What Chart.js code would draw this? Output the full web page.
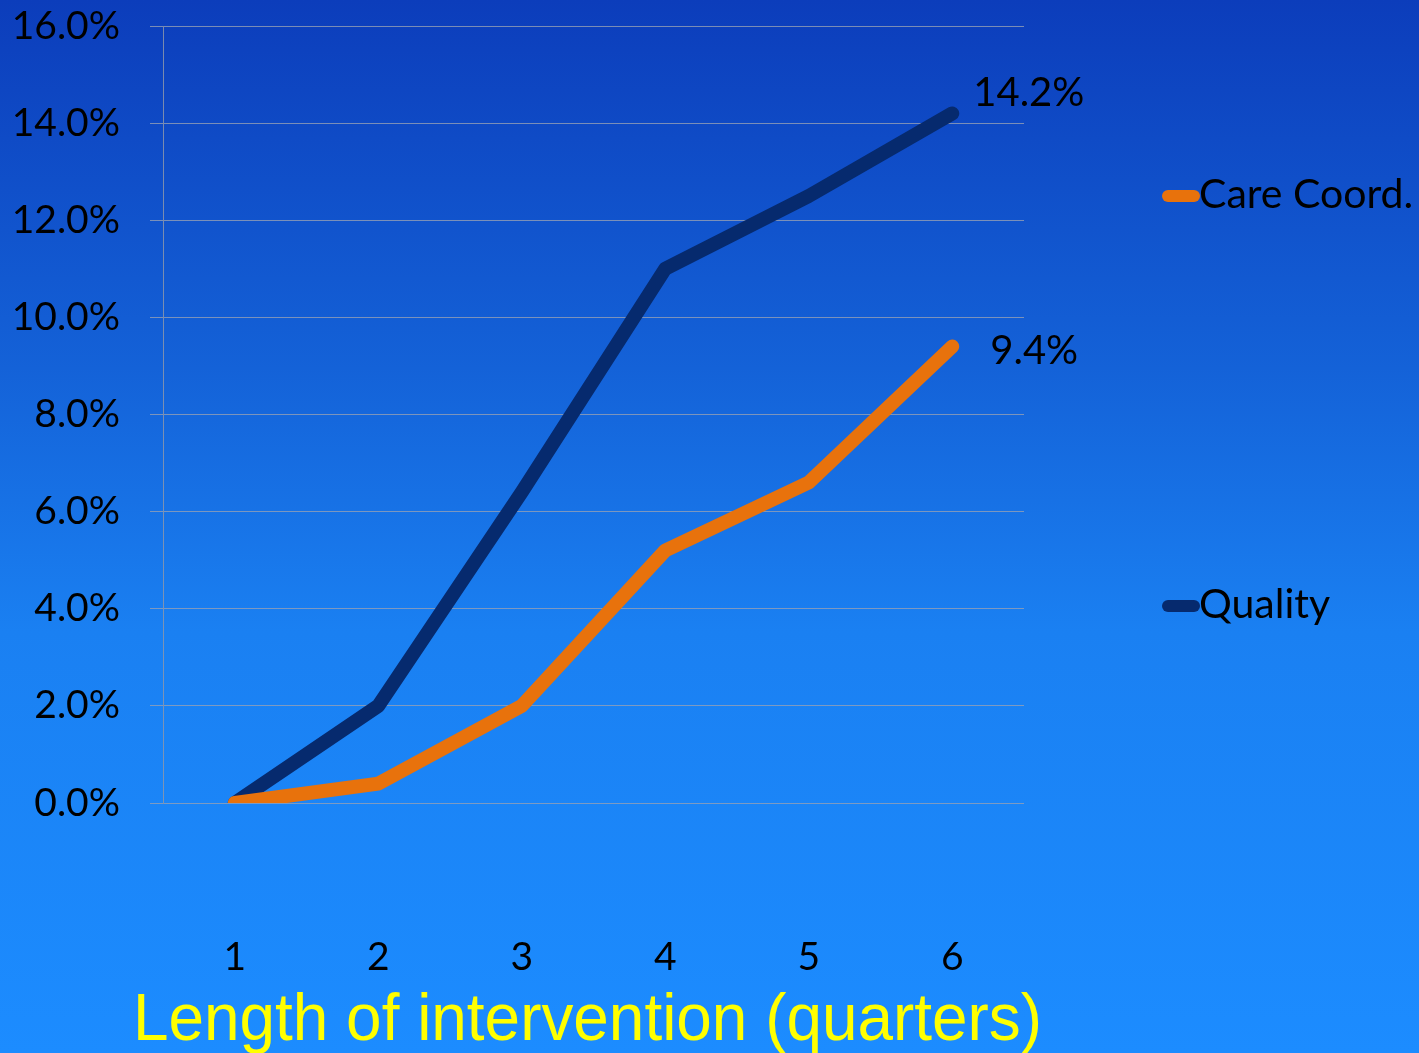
<!DOCTYPE html>
<html>
<head>
<meta charset="utf-8">
<title>Length of intervention</title>
<script src="https://cdn.jsdelivr.net/npm/chart.js@4/dist/chart.umd.min.js"></script>
<style>
  html, body { margin: 0; padding: 0; background: #1a7ef0; }
  #wrap { width: 1419px; height: 1053px; position: relative; }
  canvas { display: block; }
</style>
</head>
<body>
<div id="wrap"><canvas id="chart" width="1419" height="1053"></canvas></div>
<script>
// Quarters since the intervention started
const quarters = ['1', '2', '3', '4', '5', '6'];
// Cumulative improvement (%) by domain
const careCoord = [0.0, 0.4, 2.0, 5.2, 6.6, 9.4];
const quality = [0.0, 2.0, 6.4, 11.0, 12.5, 14.2];
// Y axis range and step (%)
const yMin = 0;
const yMax = 16;
const yStep = 2;
const axisTitle = 'Length of intervention (quarters)';

const FONT = 'Lato, "Open Sans", sans-serif';
const ORANGE = '#e8720c';
const NAVY = '#062a6e';

// Slide-style vertical gradient behind the whole chart
const backdrop = {
  id: 'backdrop',
  beforeDraw(chart) {
    const { ctx, width, height } = chart;
    const g = ctx.createLinearGradient(0, 0, 0, height);
    g.addColorStop(0, '#0c3dbb');
    g.addColorStop(0.35, '#1462d8');
    g.addColorStop(0.6, '#1a80f2');
    g.addColorStop(1, '#1c8cff');
    ctx.save();
    ctx.fillStyle = g;
    ctx.fillRect(0, 0, width, height);
    ctx.restore();
  }
};

// Value labels at the last point, legend on the right, yellow axis title
const annotations = {
  id: 'annotations',
  afterDraw(chart) {
    const { ctx } = chart;
    const xs = chart.scales.x, ys = chart.scales.y;
    ctx.save();
    ctx.fillStyle = '#000000';
    ctx.font = '40px ' + FONT;
    ctx.textBaseline = 'middle';
    ctx.textAlign = 'left';
    const last = quarters.length - 1;
    const qx = xs.getPixelForValue(last), qy = ys.getPixelForValue(quality[last]);
    ctx.fillText(quality[last].toFixed(1) + '%', qx + 21, qy - 20);
    const cx = xs.getPixelForValue(last), cy = ys.getPixelForValue(careCoord[last]);
    ctx.fillText(careCoord[last].toFixed(1) + '%', cx + 38, cy + 5);

    // legend
    ctx.font = '41px ' + FONT;
    const items = [
      { label: chart.data.datasets[0].label, color: ORANGE, y: 196 },
      { label: chart.data.datasets[1].label, color: NAVY, y: 606 }
    ];
    items.forEach(it => {
      ctx.strokeStyle = it.color;
      ctx.lineWidth = 12;
      ctx.lineCap = 'round';
      ctx.beginPath();
      ctx.moveTo(1168, it.y);
      ctx.lineTo(1194, it.y);
      ctx.stroke();
      ctx.fillStyle = '#000000';
      ctx.fillText(it.label, 1199, it.y - 1);
    });

    // axis title, condensed to slide width
    ctx.font = '66px "Liberation Sans", Arial, sans-serif';
    ctx.fillStyle = '#ffff00';
    ctx.textBaseline = 'alphabetic';
    ctx.textAlign = 'left';
    const targetW = 909;
    const w = ctx.measureText(axisTitle).width;
    ctx.translate(133, 1040);
    ctx.scale(targetW / w, 1);
    ctx.fillText(axisTitle, 0, 0);
    ctx.restore();
  }
};

new Chart(document.getElementById('chart'), {
  type: 'line',
  data: {
    labels: quarters,
    datasets: [
      {
        label: 'Care Coord.',
        data: careCoord,
        borderColor: ORANGE,
        backgroundColor: ORANGE,
        borderWidth: 14,
        borderCapStyle: 'round',
        borderJoinStyle: 'round',
        pointRadius: 0,
        tension: 0,
        clip: { left: 30, right: 30, top: 30, bottom: 0 }
      },
      {
        label: 'Quality',
        data: quality,
        borderColor: NAVY,
        backgroundColor: NAVY,
        borderWidth: 14,
        borderCapStyle: 'round',
        borderJoinStyle: 'round',
        pointRadius: 0,
        tension: 0,
        clip: { left: 30, right: 30, top: 30, bottom: 0 }
      }
    ]
  },
  options: {
    responsive: false,
    animation: false,
    devicePixelRatio: 1,
    layout: { padding: { top: 0, right: 395, left: 0, bottom: 0 } },
    plugins: {
      legend: { display: false },
      tooltip: { enabled: false },
      title: { display: false }
    },
    scales: {
      x: {
        offset: true,
        grid: { display: false, drawTicks: false },
        border: { display: false },
        ticks: {
          color: '#000000',
          font: { family: FONT, size: 39 },
          padding: 131,
          maxRotation: 0
        },
        afterFit(scale) { scale.height = 250; }
      },
      y: {
        min: yMin,
        max: yMax,
        grid: {
          color: 'rgba(150,160,180,0.8)',
          lineWidth: 1,
          drawTicks: true,
          tickLength: 13
        },
        border: { display: true, color: 'rgba(140,150,170,0.85)', width: 1 },
        ticks: {
          stepSize: yStep,
          color: '#000000',
          font: { family: FONT, size: 39 },
          padding: 30,
          callback: v => v.toFixed(1) + '%'
        },
        afterFit(scale) {
          scale.width = 163;
          scale.paddingTop = 26;
          scale.paddingBottom = 0;
        }
      }
    }
  },
  plugins: [backdrop, annotations]
});
</script>
</body>
</html>
